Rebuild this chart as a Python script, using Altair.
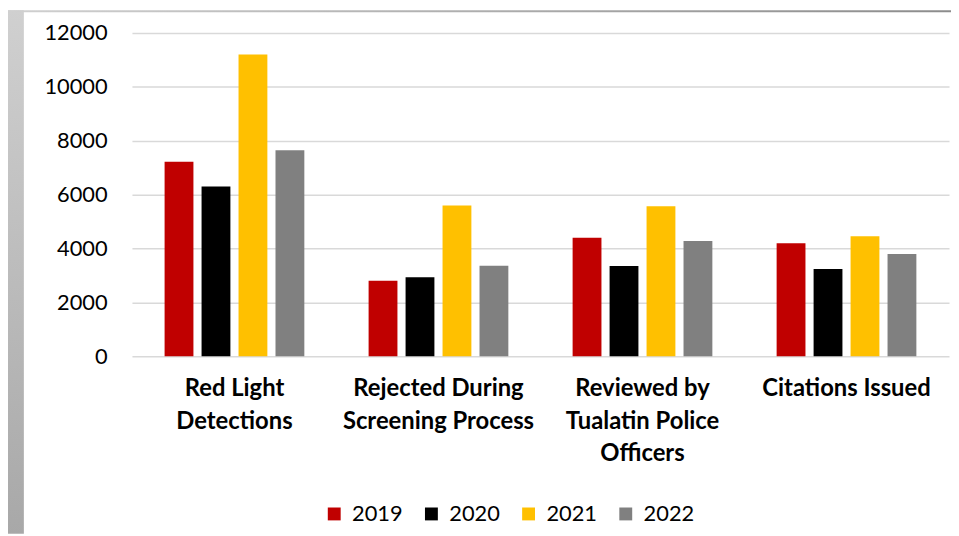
import altair as alt
import pandas as pd

categories = ["Red Light|Detections", "Rejected During|Screening Process",
              "Reviewed by|Tualatin Police|Officers", "Citations Issued"]
years = ["2019", "2020", "2021", "2022"]
colors = ["#C00000", "#000000", "#FFC000", "#808080"]
values_2019 = [7220, 2800, 4400, 4200]
values_2020 = [6300, 2930, 3350, 3240]
values_2021 = [11200, 5600, 5570, 4460]
values_2022 = [7650, 3360, 4280, 3800]
y_ticks = [0, 2000, 4000, 6000, 8000, 10000, 12000]

series = {"2019": values_2019, "2020": values_2020, "2021": values_2021, "2022": values_2022}
rows = []
for y in years:
    for c, v in zip(categories, series[y]):
        rows.append({"category": c, "year": y, "value": v})
df = pd.DataFrame(rows)

W, H = 824, 326
FONT = "Lato"

bars = alt.Chart(df).mark_bar().encode(
    x=alt.X("category:N", sort=categories,
            scale=alt.Scale(paddingInner=0.315, paddingOuter=0.16),
            axis=alt.Axis(title=None, labelAngle=0, domain=False, ticks=False,
                          labelPadding=21, labelFontSize=24, labelFont=FONT,
                          labelFontWeight="bold", labelColor="#000000",
                          labelLineHeight=32.5, labelBaseline="top", labelLimit=0,
                          labelExpr="split(datum.value, '|')")),
    xOffset=alt.XOffset("year:N", sort=years, scale=alt.Scale(paddingInner=0.22)),
    y=alt.Y("value:Q", scale=alt.Scale(domain=[0, 12000]),
            axis=alt.Axis(title=None, values=y_ticks, format="d", domain=False,
                          ticks=False, labelPadding=25, labelFontSize=22,
                          labelFont=FONT, labelColor="#000000",
                          gridColor="#d9d9d9", gridWidth=1.5)),
    color=alt.Color("year:N", sort=years,
                    scale=alt.Scale(domain=years, range=colors),
                    legend=alt.Legend(title=None, orient="none", direction="horizontal",
                                      legendX=193, legendY=474, symbolType="square",
                                      symbolSize=169, symbolStrokeWidth=0,
                                      labelFontSize=22, labelFont=FONT,
                                      labelColor="#000000", columnPadding=17,
                                      labelOffset=7)),
)

frame_df = pd.DataFrame({"a": [0]})
left_band = alt.Chart(frame_df).mark_rect(
    color=alt.Gradient(gradient="linear", x1=0, x2=0, y1=0, y2=1,
                       stops=[alt.GradientStop(color="#d0d0d0", offset=0),
                              alt.GradientStop(color="#a8a8a8", offset=1)])
).encode(x=alt.value(-125), x2=alt.value(-109), y=alt.value(-23), y2=alt.value(505))
top_band = alt.Chart(frame_df).mark_rect(
    color=alt.Gradient(gradient="linear", x1=0, x2=1, y1=0, y2=0,
                       stops=[alt.GradientStop(color="#d0d0d0", offset=0),
                              alt.GradientStop(color="#8c8c8c", offset=1)])
).encode(x=alt.value(-125), x2=alt.value(826), y=alt.value(-23), y2=alt.value(-21))

chart = alt.layer(left_band, top_band, bars).properties(
    width=W, height=H,
    autosize=alt.AutoSizeParams(type="none"),
    padding={"left": 125, "top": 23, "right": 2, "bottom": 179},
    background="white",
).configure_view(stroke=None)

chart.save("out.html", embed_options={"renderer": "svg", "actions": False})
